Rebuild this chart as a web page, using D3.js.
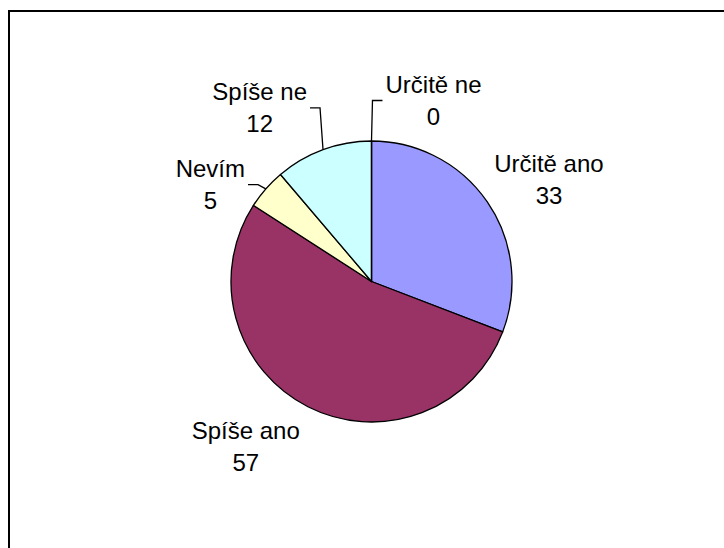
<!DOCTYPE html>
<html>
<head>
<meta charset="utf-8">
<script src="https://cdn.jsdelivr.net/npm/d3@7"></script>
<style>
  html, body { margin: 0; padding: 0; background: #fff; }
  svg { display: block; }
</style>
</head>
<body>
<div id="chart"></div>
<script>
// data
const categories = ['Určitě ano', 'Spíše ano', 'Nevím', 'Spíše ne', 'Určitě ne']
const values = [33, 57, 5, 12, 0]
const colors = ['#9999FF', '#993366', '#FFFFCC', '#CCFFFF', '#660066']

// layout
const width = 724, height = 548
const cx = 371.5, cy = 281.5, radius = 140.5
const labelRadius = 185
const fontSize = 24, lineH = 32
// labels were dragged off their default spot in the original, so nudge them
const labelShift = [[25, 3], [-42, 0], [-22, 25], [-48, 0], [62, 4]]
const hasLeader = [false, false, true, true, true]

const svg = d3.select('#chart').append('svg')
  .attr('width', width)
  .attr('height', height)

// chart area border (runs off the right and bottom edge)
svg.append('rect')
  .attr('x', 9).attr('y', 11)
  .attr('width', width).attr('height', height)
  .attr('fill', 'none')
  .attr('stroke', '#000')
  .attr('stroke-width', 2)

const rootG = svg.append('g')
  .attr('transform', 'translate(' + cx + ',' + cy + ')')

const pie = d3.pie().sort(null).value(d => d)
const arcs = pie(values)

const arc = d3.arc().innerRadius(0).outerRadius(radius)
const edgeArc = d3.arc().innerRadius(radius).outerRadius(radius)
const labelArc = d3.arc().innerRadius(labelRadius).outerRadius(labelRadius)

rootG.selectAll('path.slice')
  .data(arcs)
  .join('path')
  .attr('class', 'slice')
  .attr('d', arc)
  .attr('fill', (d, i) => colors[i])
  .attr('stroke', '#000')
  .attr('stroke-width', 1.3)
  .attr('stroke-linejoin', 'round')

// labels
const labelG = rootG.append('g')
  .attr('font-family', 'Liberation Sans, Arial, sans-serif')
  .attr('font-size', fontSize)
  .attr('fill', '#000')

arcs.forEach((d, i) => {
  const c = labelArc.centroid(d)
  const lx = c[0] + labelShift[i][0]
  const ly = c[1] + labelShift[i][1]
  const capH = fontSize * 0.716

  const t = labelG.append('text')
    .attr('text-anchor', 'middle')
  t.append('tspan')
    .attr('x', lx)
    .attr('y', ly - lineH / 2 + capH / 2)
    .text(categories[i])
  t.append('tspan')
    .attr('x', lx)
    .attr('y', ly + lineH / 2 + capH / 2)
    .text(values[i])

  if (hasLeader[i]) {
    const box = t.node().getBBox()
    const start = edgeArc.centroid(d)
    const leftSide = lx < start[0]
    const edgeX = leftSide ? box.x + box.width + 3 : box.x - 3
    const elbowX = leftSide ? edgeX + 10 : edgeX - 10
    rootG.append('path')
      .attr('d', d3.line()([start, [elbowX, ly], [edgeX, ly]]))
      .attr('fill', 'none')
      .attr('stroke', '#000')
      .attr('stroke-width', 1.3)
  }
})
</script>
</body>
</html>
